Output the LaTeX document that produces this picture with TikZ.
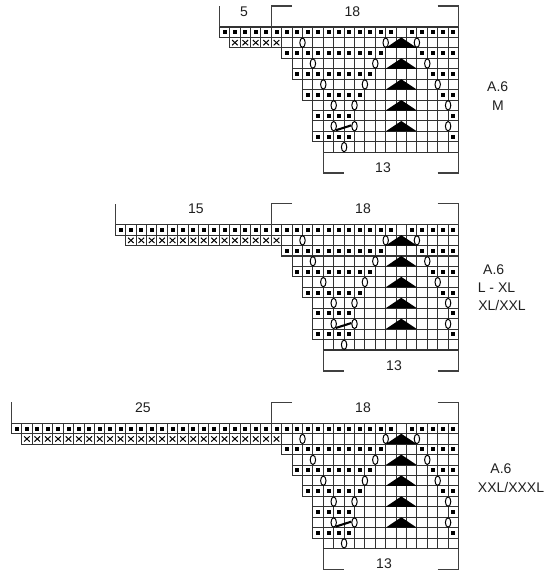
\documentclass[tikz,border=0pt]{standalone}
\usepackage{fontspec}
\setmainfont{Liberation Sans}
\usetikzlibrary{shapes.geometric}
\definecolor{gridc}{gray}{0.2}
\definecolor{inkc}{gray}{0.12}
\tikzset{
  gridline/.style={draw=gridc,line width=1.05pt},
  bracketline/.style={draw=inkc!85!white,line width=1.35pt},
  dotmark/.style={fill=black},
  xmark/.style={draw=black,line width=1pt},
  yarnover/.style={ellipse,draw=black,fill=white,line width=1pt,inner sep=0pt,minimum width=5.4pt,minimum height=9.4pt},
  wedge/.style={fill=black},
  cable/.style={draw=black,line width=2.1pt},
  lbl/.style={font=\fontsize{14}{16}\selectfont,text=inkc,inner sep=0pt},
}
% #1 = extra columns, #2 = top of the grid, #3 = name prefix
\newcommand\knitchart[3]{%
\begin{scope}[x=10.4pt,y=-10.44pt,xshift=219.3pt,yshift=-#2pt]
  \pgfmathtruncatemacro\first{-#1}
  \pgfmathtruncatemacro\firstb{1-#1}
  \foreach \s [count=\r from 0] in {\first,\firstb,6,7,7,8,8,9,9,9,9,10}{
    \foreach \k in {\s,...,22}{
      \draw[gridline] (\k,\r) rectangle ++(1,1);
    }
  }
  \foreach \a/\b/\r in {\first/16/0,18/22/0,6/15/2,19/22/2,7/14/4,20/22/4,8/13/6,21/22/6,9/12/8,22/22/8,9/12/10,22/22/10}{
    \foreach \k in {\a,...,\b}{
      \fill[dotmark] (\k+.5,\r+.5) ++(-2pt,-2pt) rectangle ++(4pt,4pt);
    }
  }
  \foreach \k in {\firstb,...,5}{
    \draw[xmark] (\k+.5,1.5) ++(-2.8pt,-2.6pt) -- ++(5.6pt,5.2pt);
    \draw[xmark] (\k+.5,1.5) ++(-2.8pt,2.6pt) -- ++(5.6pt,-5.2pt);
  }
  \foreach \r in {1,3,5,7,9}{
    \fill[wedge] (16,\r+1) -- (19,\r+1) -- (17.5,\r) -- cycle;
  }
  \foreach \k/\r in {8/1,16/1,19/1,9/3,15/3,20/3,10/5,14/5,21/5,11/7,13/7,22/7,22/9,12/11}{
    \node[yarnover] (#3o\k r\r) at (\k,\r+.5) {};
  }
  \node[yarnover] (#3cl) at (11,9.5) {};
  \node[yarnover] (#3cr) at (13,9.5) {};
  \draw[cable] (#3cl.-65) -- (#3cr.165);
  \draw[bracketline] (\first,0) -- (\first,-2);
  \draw[bracketline] (7,-2) -- (5,-2) -- (5,0);
  \draw[bracketline] (21,-2) -- (23,-2) -- (23,0);
  \draw[bracketline] (10,12) -- (10,14) -- (12,14);
  \draw[bracketline] (21,14) -- (23,14) -- (23,12);
\end{scope}}
\begin{document}
\begin{tikzpicture}[x=1pt,y=-1pt]
\useasboundingbox (0,0) rectangle (550,579);
\knitchart{0}{27}{a}
\knitchart{10}{224.7}{b}
\knitchart{20}{423.3}{c}
\node[lbl] (a5) at (244,11.5) {5};
\node[lbl] (a18) at (352.5,11.5) {18};
\node[lbl] (a13) at (383,168) {13};
\node[lbl] (at1) at (497.7,86.5) {A.6};
\node[lbl] (at2) at (498,105.7) {M};
\node[lbl] (b15) at (196,209) {15};
\node[lbl] (b18) at (363,209) {18};
\node[lbl] (b13) at (394,365.7) {13};
\node[lbl] (bt1) at (493.7,269.3) {A.6};
\node[lbl] (bt2) at (496.5,287.7) {L - XL};
\node[lbl] (bt3) at (502,305.7) {XL/XXL};
\node[lbl] (c25) at (143,407.5) {25};
\node[lbl] (c18) at (363,407.5) {18};
\node[lbl] (c13) at (384,564) {13};
\node[lbl] (ct1) at (501,468.3) {A.6};
\node[lbl] (ct2) at (511,487.7) {XXL/XXXL};
\end{tikzpicture}
\end{document}
